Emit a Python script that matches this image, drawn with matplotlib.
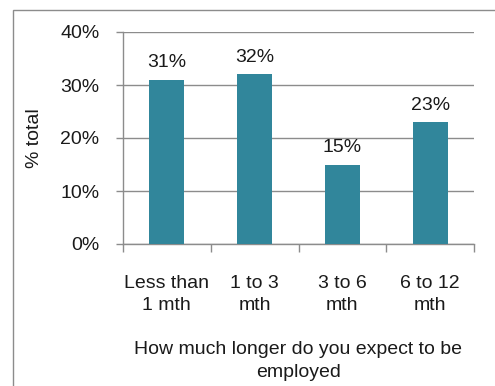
import numpy as np
import matplotlib.pyplot as plt
from matplotlib.patches import Rectangle

plt.rcParams['font.family'] = ['Liberation Sans', 'DejaVu Sans']

categories = ['Less than\n1 mth', '1 to 3\nmth', '3 to 6\nmth', '6 to 12\nmth']
pct_total = [31, 32, 15, 23]
yticks = [0, 10, 20, 30, 40]

bar_col = '#31869b'
grid_col = '#8c8c8c'
txt_col = '#1a1a1a'
fs = 14

W, H = 495, 386
fig = plt.figure(figsize=(W/100, H/100), dpi=100)
ax = fig.add_axes([123/W, 1-244/H, (474-123)/W, (244-32)/H])

# outer chart frame (only top and left edges fall inside the canvas)
fig.patches.append(Rectangle((13/W, -0.5), 1.5, 1.5-10/H, transform=fig.transFigure,
                             fill=False, edgecolor=grid_col, linewidth=1.0))

x = np.arange(len(categories))
ax.bar(x, pct_total, width=0.4, color=bar_col, zorder=3)
for xi, v in zip(x, pct_total):
    ax.annotate('%d%%' % v, (xi, v), xytext=(0, 6), textcoords='offset points',
                ha='center', va='bottom', fontsize=fs, color=txt_col)

ax.set_xlim(-0.5, len(categories)-0.5)
ax.set_ylim(0, 40)
ax.set_yticks(yticks)
ax.set_yticklabels(['%d%%' % t for t in yticks])
ax.yaxis.grid(True, color=grid_col, linewidth=1.0, zorder=0)
ax.set_xticks(x)
ax.set_xticklabels(categories, linespacing=1.45)
ax.set_xticks(np.arange(len(categories)+1)-0.5, minor=True)
ax.tick_params(axis='x', which='major', length=0, pad=22, labelsize=fs, labelcolor=txt_col)
ax.tick_params(axis='x', which='minor', length=6, width=1.0, color=grid_col)
ax.tick_params(axis='y', length=5, width=1.0, color=grid_col, pad=12, labelsize=fs, labelcolor=txt_col)

for s in ['top', 'right']:
    ax.spines[s].set_visible(False)
for s in ['left', 'bottom']:
    ax.spines[s].set_color(grid_col)
    ax.spines[s].set_linewidth(1.0)

ax.set_ylabel('% total', fontsize=fs, color=txt_col, labelpad=12)
ax.set_xlabel('How much longer do you expect to be\nemployed', fontsize=fs,
              color=txt_col, labelpad=19, linespacing=1.5)

plt.savefig('out.png', dpi=100)
